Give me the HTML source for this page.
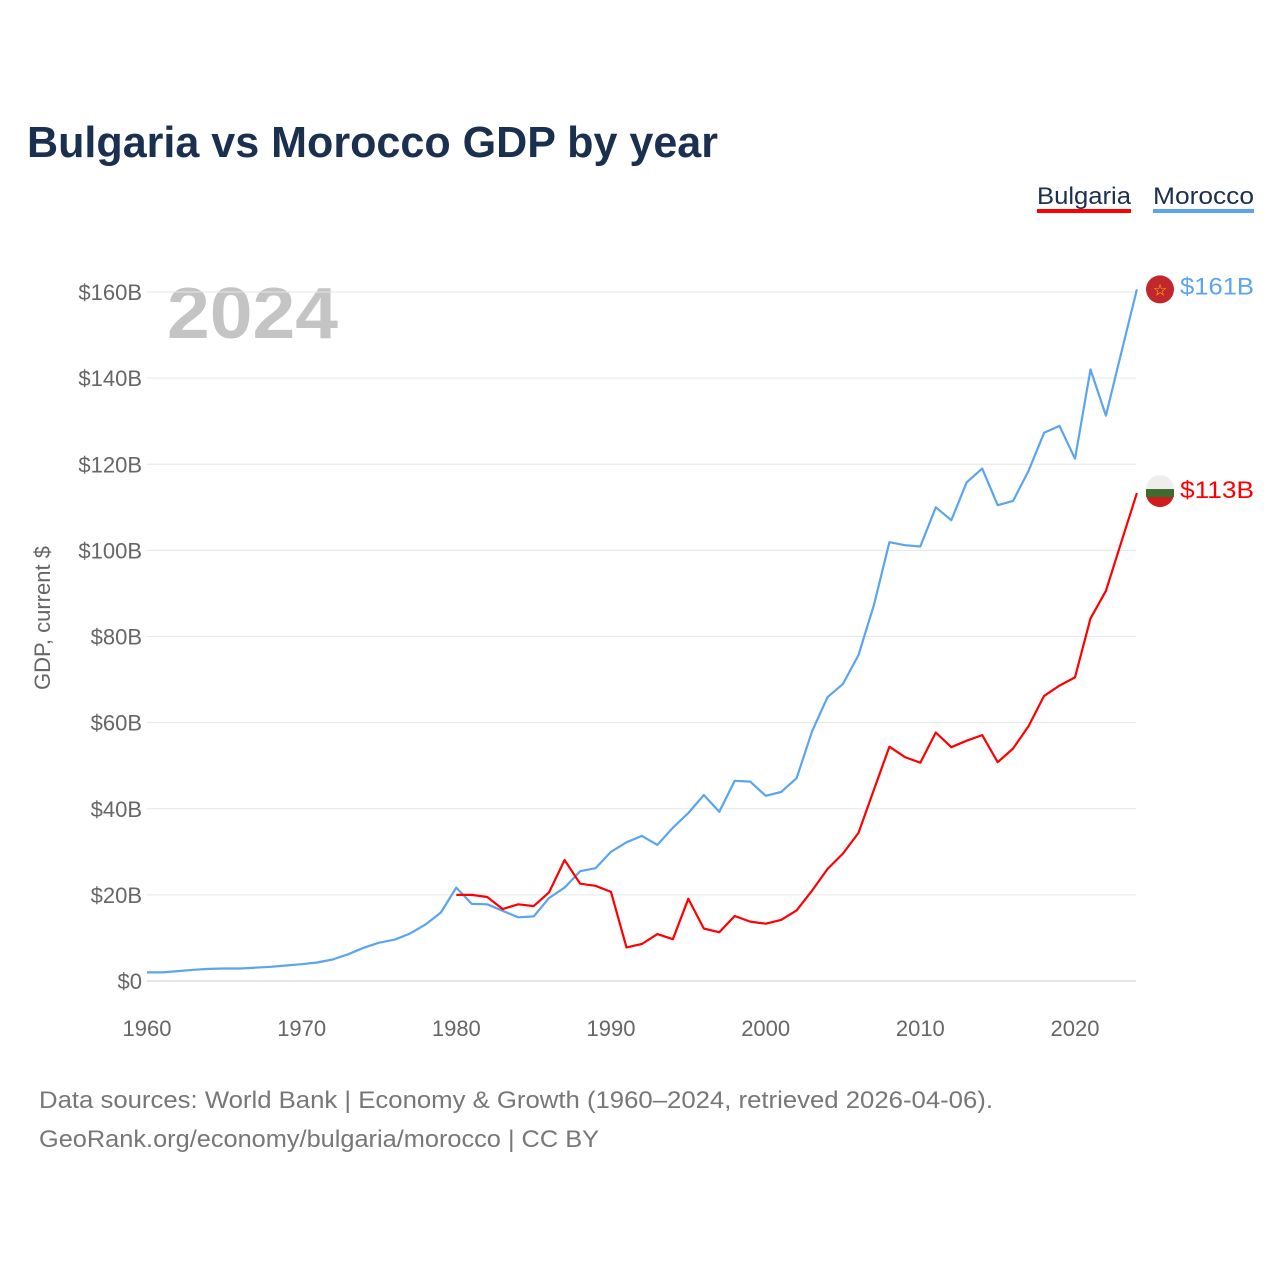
<!DOCTYPE html>
<html><head><meta charset="utf-8"><style>
body{margin:0;background:#fff;width:1280px;height:1280px;overflow:hidden;font-family:"Liberation Sans",sans-serif}
</style></head><body>
<svg width="1280" height="1280" font-family="Liberation Sans, sans-serif">
<text x="27" y="157" font-size="44" font-weight="bold" fill="#1b2f4f" textLength="691" lengthAdjust="spacingAndGlyphs">Bulgaria vs Morocco GDP by year</text>
<g><text x="1037" y="204" font-size="24" fill="#1b2f4f" textLength="94" lengthAdjust="spacingAndGlyphs">Bulgaria</text><rect x="1037" y="209" width="94" height="4" fill="#ff0000"/></g>
<g><text x="1153" y="204" font-size="24" fill="#1b2f4f" textLength="101" lengthAdjust="spacingAndGlyphs">Morocco</text><rect x="1153" y="209" width="101" height="4" fill="#5ba4ee"/></g>
<text x="167" y="338" font-size="72" font-weight="bold" fill="#c4c4c4" textLength="171" lengthAdjust="spacingAndGlyphs">2024</text>
<text transform="translate(50,618) rotate(-90)" text-anchor="middle" font-size="22" fill="#666">GDP, current $</text>
<g id="grid"></g><g id="yt"></g><g id="xt"></g><g id="lines"></g>
<text x="39" y="1108" font-size="24" fill="#777" textLength="954" lengthAdjust="spacingAndGlyphs">Data sources: World Bank | Economy &amp; Growth (1960–2024, retrieved 2026-04-06).</text>
<text x="39" y="1147" font-size="24" fill="#777" textLength="560" lengthAdjust="spacingAndGlyphs">GeoRank.org/economy/bulgaria/morocco | CC BY</text>
</svg>
<script>
const yTicks=[0,20,40,60,80,100,120,140,160];
const xTicks=[1960,1970,1980,1990,2000,2010,2020];
const moroccoStart=1960;
const moroccoValues=[2.0,2.0,2.3,2.6,2.8,2.9,2.9,3.1,3.3,3.6,3.9,4.3,5.0,6.2,7.7,8.9,9.6,11.0,13.1,15.9,21.7,17.9,17.8,16.3,14.8,15.0,19.3,21.7,25.5,26.2,30.0,32.2,33.7,31.6,35.6,39.0,43.2,39.3,46.5,46.3,43.0,43.9,47.1,58.0,65.9,69.0,75.7,87.3,101.9,101.2,100.9,110.0,107.0,115.8,119.0,110.5,111.5,118.5,127.3,128.9,121.3,142.0,131.3,146.0,160.6];
const bulgariaStart=1980;
const bulgariaValues=[20.0,20.0,19.5,16.7,17.8,17.4,20.6,28.1,22.6,22.1,20.7,7.8,8.6,10.9,9.7,19.1,12.2,11.3,15.1,13.8,13.3,14.2,16.4,21.0,26.0,29.6,34.4,44.4,54.4,52.0,50.7,57.7,54.3,55.8,57.1,50.8,54.0,59.2,66.2,68.6,70.5,84.2,90.6,102.0,113.3];
const NS='http://www.w3.org/2000/svg';
const X=yr=>147+(yr-1960)*(928/60);
const Y=v=>981-v*(689/160);
function mk(tag,attrs,parent,txt){const e=document.createElementNS(NS,tag);for(const k in attrs)e.setAttribute(k,attrs[k]);if(txt!==undefined)e.textContent=txt;document.getElementById(parent).appendChild(e);return e;}
yTicks.forEach(t=>{
 const l=mk('line',{x1:147,x2:1136,y1:Y(t),y2:Y(t),stroke:t===0?'#ccc':'#e6e6e6','stroke-width':1},'grid');
 
 
 const tx=mk('text',{x:142,y:Y(t)+8,'text-anchor':'end','font-size':22,fill:'#666'},'yt','$'+t+(t?'B':''));
 
 
});
xTicks.forEach(t=>{
 const tx=mk('text',{x:X(t),y:1036,'text-anchor':'middle','font-size':22,fill:'#666'},'xt',String(t));
 
 
});
function series(vals,start,color,name,label){
 const pts=vals.map((v,i)=>X(start+i).toFixed(1)+','+Y(v).toFixed(1)).join(' ');
 const p=mk('polyline',{points:pts,fill:'none',stroke:color,'stroke-width':2.2,'stroke-linejoin':'round'},'lines');
 
 
 const lv=vals[vals.length-1],ly=Y(lv);
 const c=mk('circle',{cx:1160,cy:ly,r:14,fill:color==='#ff0000'?'#d01c1f':'#c1272d'},'lines');
 
 
 if(name==='bulgaria'){
  mk('path',{d:`M1146 ${ly-4} A14 14 0 0 1 1174 ${ly-4} Z`,fill:'#eee'},'lines');
  mk('rect',{x:1146,y:ly-4,width:28,height:8,fill:'#3e6b2e'},'lines');
 } else {
  mk('text',{x:1160,y:ly+6,'text-anchor':'middle','font-size':16,fill:'#f5d000'},'lines','☆');
 }
 const t=mk('text',{x:1180,y:ly+5,'font-size':24,fill:color,textLength:74,lengthAdjust:'spacingAndGlyphs'},'lines',label);
 
 
}
series(moroccoValues,moroccoStart,'#5ba4ee','morocco','$'+Math.round(moroccoValues[moroccoValues.length-1])+'B');
series(bulgariaValues,bulgariaStart,'#ff0000','bulgaria','$'+Math.round(bulgariaValues[bulgariaValues.length-1])+'B');
</script>
</body></html>
